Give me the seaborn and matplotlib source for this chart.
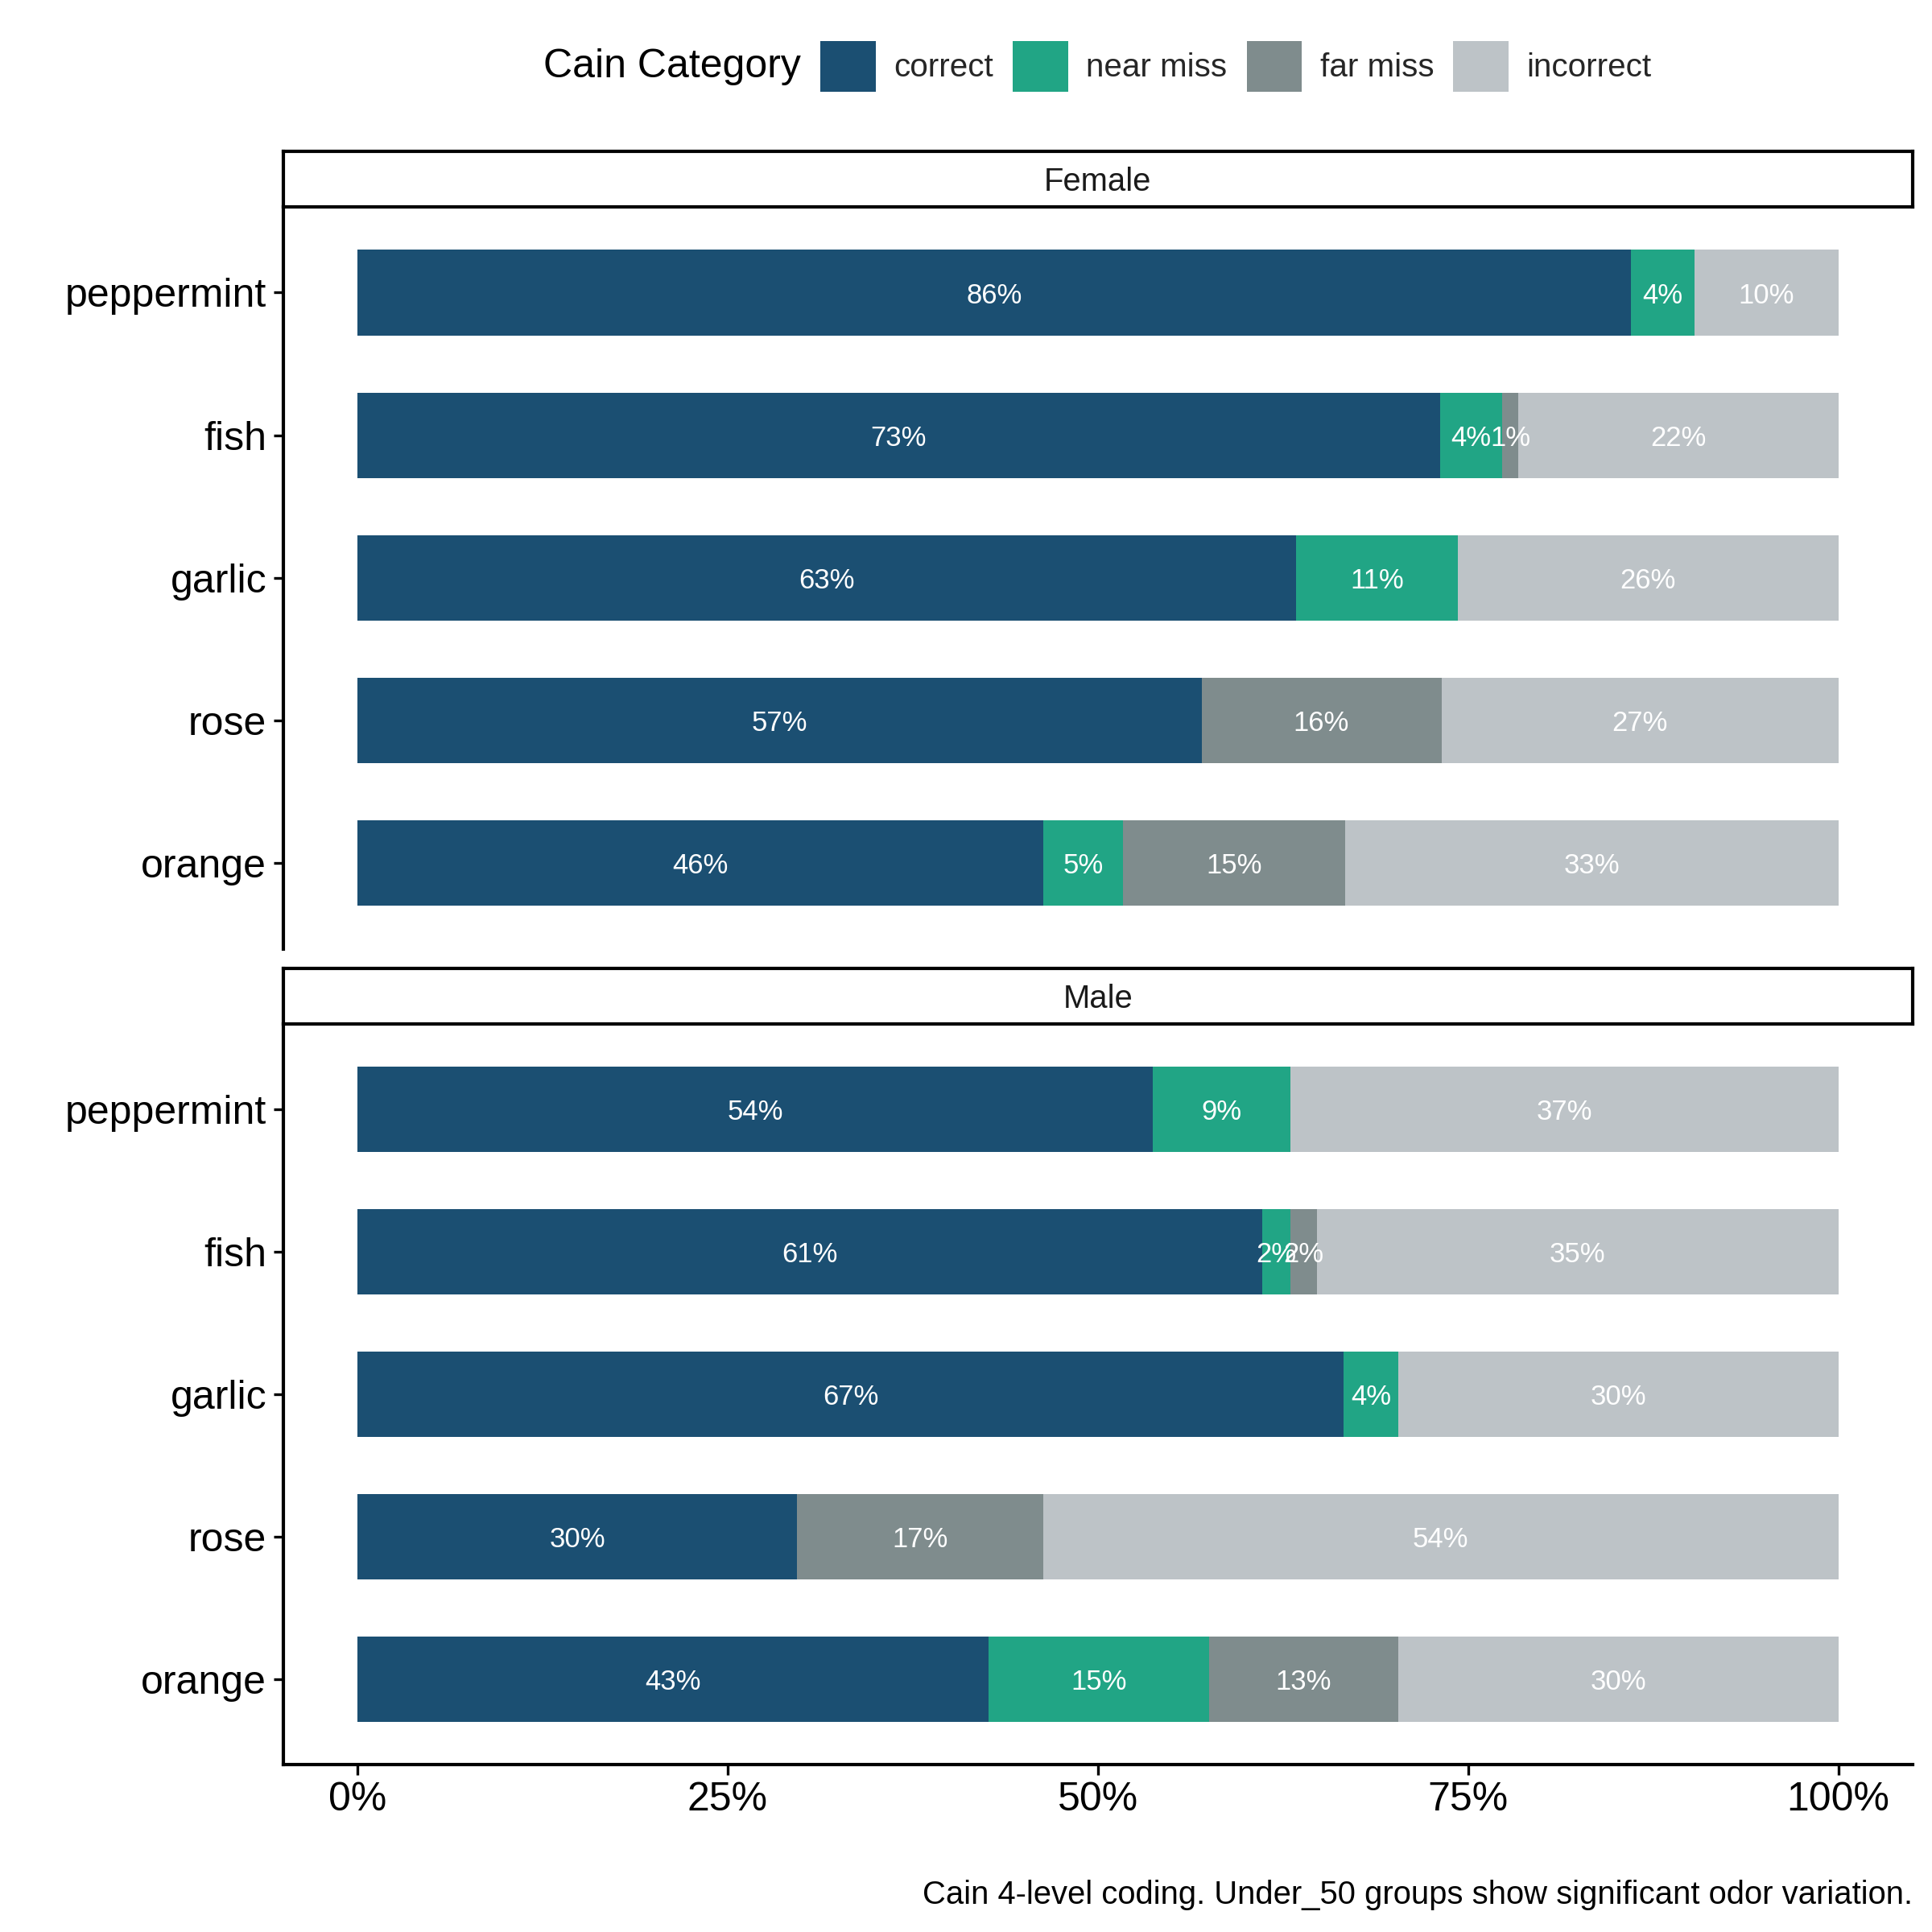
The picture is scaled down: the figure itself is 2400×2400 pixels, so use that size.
import pandas as pd
import matplotlib.pyplot as plt
import seaborn as sns
from matplotlib.patches import Patch

# Odors (top to bottom) and Cain categories
odors = ['peppermint', 'fish', 'garlic', 'rose', 'orange']
categories = ['correct', 'near miss', 'far miss', 'incorrect']
colors = ['#1B4F72', '#21A585', '#7F8C8D', '#BDC3C7']

# Percentages
female_correct = [86.0, 73.1, 63.4, 57.0, 46.3]
female_near = [4.3, 4.2, 10.9, 0.0, 5.4]
female_far = [0.0, 1.1, 0.0, 16.2, 15.0]
female_incorrect = [9.7, 21.6, 25.7, 26.8, 33.3]

male_correct = [53.7, 61.1, 66.6, 29.7, 42.6]
male_near = [9.3, 1.9, 3.7, 0.0, 14.9]
male_far = [0.0, 1.8, 0.0, 16.6, 12.8]
male_incorrect = [37.0, 35.2, 29.7, 53.7, 29.7]

x_ticks = [0, 25, 50, 75, 100]
caption = "Cain 4-level coding. Under_50 groups show significant odor variation."

panels = {
    'Female': [female_correct, female_near, female_far, female_incorrect],
    'Male': [male_correct, male_near, male_far, male_incorrect],
}

sns.set_theme(style='white')
plt.rcParams['font.family'] = ['Liberation Sans', 'DejaVu Sans']

fig = plt.figure(figsize=(8, 8), dpi=300)

L, R = 230 / 1568, 1552 / 1568
layout = {
    # strip (top, bottom), panel (top, bottom) in reference pixels
    'Female': ((123, 168), (168, 770)),
    'Male': ((786, 831), (831, 1432)),
}

for k, (sex, series) in enumerate(panels.items()):
    (s_top, s_bot), (p_top, p_bot) = layout[sex]
    ax = fig.add_axes([L, 1 - p_bot / 1568, R - L, (p_bot - p_top) / 1568])
    sax = fig.add_axes([L, 1 - s_bot / 1568, R - L, (s_bot - s_top) / 1568])

    df = pd.DataFrame({'odor': odors})
    for cat, vals in zip(categories, series):
        df[cat] = vals
    cum = df[categories].cumsum(axis=1)

    # draw cumulative bars from the longest to the shortest -> stacked look
    for cat, col in reversed(list(zip(categories, colors))):
        sns.barplot(x=cum[cat], y=df['odor'], order=odors, orient='h',
                    color=col, saturation=1, width=0.6, linewidth=0,
                    errorbar=None, ax=ax)

    # segment labels
    for i in range(len(odors)):
        start = 0
        for cat in categories:
            v = df.loc[i, cat]
            if v > 0:
                ax.text(start + v / 2, i + 0.02, f"{v:.0f}%", ha='center', va='center',
                        color='white', fontsize=8.3)
            start += v

    ax.set_xlim(-5, 105)
    ax.set_ylim(len(odors) - 0.4, -0.6)
    ax.set_xlabel('')
    ax.set_ylabel('')
    ax.set_xticks(x_ticks)
    ax.set_xticklabels([f"{t}%" for t in x_ticks])
    for side in ['top', 'right']:
        ax.spines[side].set_visible(False)
    ax.spines['left'].set_color('black')
    ax.spines['left'].set_linewidth(1.0)
    ax.tick_params(axis='y', left=True, length=3, width=0.8, color='black',
                   labelsize=12, labelcolor='black', pad=2)
    if k == 0:
        ax.spines['bottom'].set_visible(False)
        ax.tick_params(axis='x', bottom=False, labelbottom=False)
    else:
        ax.spines['bottom'].set_color('black')
        ax.spines['bottom'].set_linewidth(1.0)
        ax.tick_params(axis='x', bottom=True, length=3, width=0.8, color='black',
                       labelsize=12, labelcolor='black', pad=2)

    # facet strip
    sax.set_xticks([])
    sax.set_yticks([])
    sax.set_facecolor('white')
    for sp in sax.spines.values():
        sp.set_visible(True)
        sp.set_color('black')
        sp.set_linewidth(1.0)
    sax.text(0.5, 0.45, sex, ha='center', va='center', fontsize=9.6,
             color='#1A1A1A', transform=sax.transAxes)

# legend across the top
handles = [Patch(facecolor=c, edgecolor='none', label=cat)
           for cat, c in zip(categories, colors)]
fig.text(441 / 1568, 1 - 54 / 1568, 'Cain Category', ha='left', va='center',
         fontsize=12, color='black')
fig.legend(handles=handles, loc='center left', bbox_to_anchor=(666 / 1568, 1 - 54 / 1568),
           ncol=4, frameon=False, fontsize=9.7, handlelength=1.7, handleheight=2.0,
           handletextpad=0.55, columnspacing=0.6, borderpad=0, borderaxespad=0)

fig.text(R, 1 - 1538 / 1568, caption, ha='right', va='center', fontsize=9.6,
         color='black')

fig.savefig('out.png', dpi=300)
